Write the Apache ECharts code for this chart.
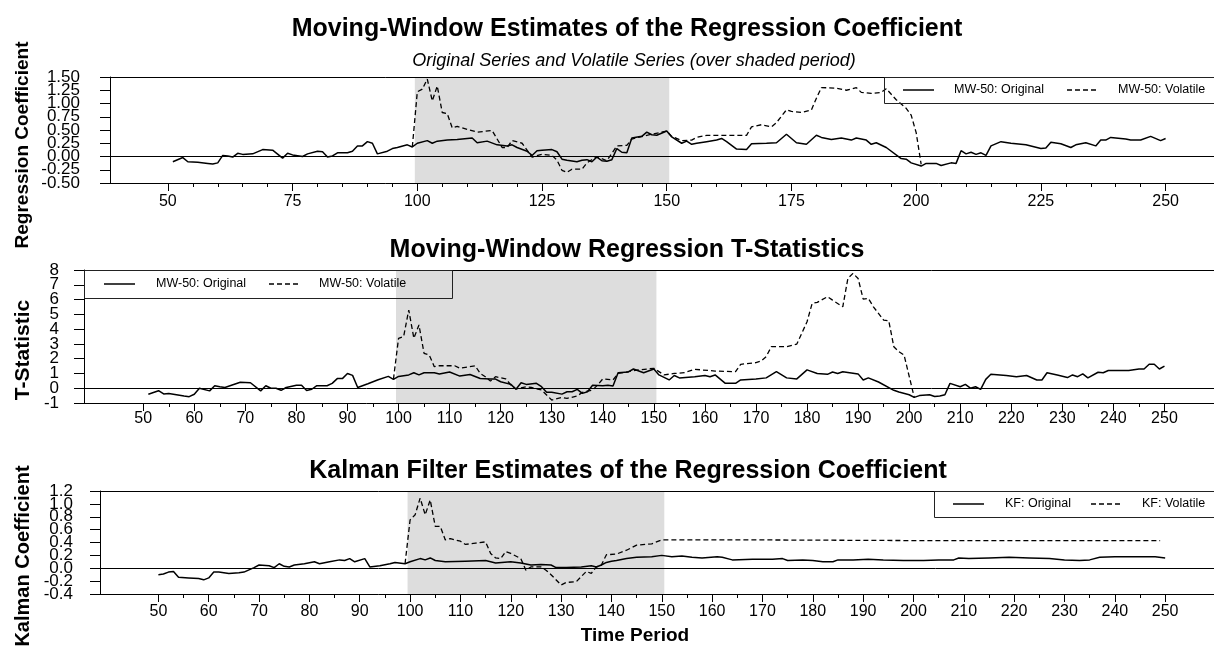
<!DOCTYPE html>
<html>
<head>
<meta charset="utf-8">
<script src="https://cdn.jsdelivr.net/npm/echarts@6/dist/echarts.min.js"></script>
</head>
<body style="margin:0">
<div id="container" style="width:1214px;height:647px"></div>
<script>
// values (time period, value)
var coefOrigT = [51,53,54,56,58,59,60,61,62,63,64,65,67,69,71,73,74,75,77,78,80,81,82,83,84,86,87,88,89,90,91,92,94,95,96,98,99,100,102,103,104,106,108,110,111,112,114,116,118,119,120,122,123,124,125,127,128,129,130,132,133,134,135,136,137,138,139,140,141,142,143,145,146,147,148,150,151,153,154,155,156,158,160,161,162,164,166,167,170,172,174,176,178,180,181,183,185,187,188,190,191,192,194,197,198,199,201,202,204,205,207,208,209,210,211,212,213,214,215,217,219,222,225,226,227,229,231,232,234,236,237,238,239,242,243,245,247,249,250];
var coefOrigV = [-0.10,-0.02,-0.10,-0.11,-0.13,-0.14,-0.12,0.02,0.01,-0.01,0.06,0.04,0.05,0.13,0.12,-0.03,0.06,0.03,0.00,0.05,0.10,0.09,-0.01,0.01,0.07,0.07,0.10,0.20,0.20,0.28,0.25,0.05,0.10,0.15,0.17,0.22,0.18,0.25,0.30,0.25,0.29,0.31,0.32,0.34,0.35,0.26,0.29,0.22,0.20,0.22,0.17,0.10,0.02,0.11,0.12,0.13,0.09,-0.05,-0.07,-0.10,-0.07,-0.06,-0.10,-0.01,-0.08,-0.09,-0.06,0.15,0.08,0.07,0.35,0.38,0.46,0.41,0.40,0.48,0.37,0.25,0.29,0.23,0.25,0.28,0.31,0.34,0.28,0.14,0.13,0.24,0.25,0.26,0.42,0.26,0.23,0.40,0.36,0.32,0.35,0.31,0.35,0.31,0.23,0.26,0.17,-0.04,-0.05,-0.12,-0.18,-0.13,-0.13,-0.17,-0.12,-0.13,0.11,0.05,0.08,0.04,0.07,0.02,0.20,0.28,0.25,0.22,0.15,0.16,0.27,0.24,0.17,0.22,0.26,0.20,0.31,0.31,0.36,0.33,0.31,0.31,0.38,0.30,0.34];
var coefVolT = [99,100,101,102,103,104,105,106,107,108,110,112,115,116,117,118,119,121,122,123,125,127,128,129,130,131,133,134,136,138,140,142,143,146,150,151,153,155,156,158,166,167,169,171,172,174,175,177,179,180,181,184,186,188,189,191,193,194,196,198,199,200,201];
var coefVolV = [0.18,1.22,1.27,1.46,1.05,1.33,0.83,0.81,0.54,0.57,0.51,0.46,0.49,0.33,0.17,0.17,0.30,0.25,0.12,-0.01,0.04,0.02,-0.07,-0.26,-0.30,-0.24,-0.24,-0.12,0.00,-0.08,0.20,0.21,0.33,0.40,0.48,0.38,0.30,0.31,0.36,0.40,0.40,0.56,0.60,0.56,0.64,0.88,0.85,0.83,0.88,1.10,1.30,1.29,1.25,1.30,1.21,1.19,1.21,1.28,1.07,0.91,0.78,0.45,-0.15];

var tstatOrigT = [51,53,54,55,58,59,60,61,63,64,65,66,69,71,73,74,75,76,77,78,80,81,82,83,84,86,87,88,89,90,91,92,94,96,98,99,100,102,103,104,105,107,108,110,112,114,116,118,119,120,122,123,124,125,127,128,129,130,132,133,134,135,136,137,138,140,141,142,143,145,146,148,150,151,153,154,155,158,160,161,162,164,166,167,170,172,174,176,178,180,182,184,185,186,187,190,191,192,194,197,198,200,201,202,204,205,206,207,208,210,211,212,213,214,215,216,219,221,223,225,226,227,229,231,232,233,234,235,237,238,239,243,245,246,247,248,249,250];
var tstatOrigV = [-0.41,-0.17,-0.39,-0.35,-0.53,-0.57,-0.41,0.00,-0.18,0.17,0.10,0.05,0.40,0.37,-0.18,0.17,0.00,0.00,-0.14,0.05,0.20,0.20,-0.16,-0.07,0.17,0.17,0.33,0.65,0.65,1.00,0.87,0.05,0.30,0.57,0.80,0.60,0.80,0.90,1.05,0.90,1.05,1.05,0.96,1.10,0.82,0.93,0.66,0.62,0.62,0.44,0.26,-0.07,0.37,0.26,0.33,0.10,-0.28,-0.28,-0.40,-0.24,-0.24,-0.08,-0.35,-0.24,0.20,0.17,0.20,0.15,1.05,1.10,1.30,1.05,1.30,0.90,0.56,0.86,0.70,0.78,0.86,0.78,0.90,0.33,0.33,0.56,0.63,0.70,1.12,0.70,0.63,1.24,1.00,0.94,1.10,1.00,1.12,0.97,0.56,0.70,0.42,-0.14,-0.26,-0.44,-0.62,-0.50,-0.44,-0.56,-0.52,-0.44,0.33,0.10,0.26,0.00,0.10,-0.08,0.60,0.94,0.86,0.78,0.86,0.56,0.56,1.05,0.90,0.72,0.90,0.78,0.97,0.70,1.08,1.05,1.20,1.20,1.30,1.30,1.62,1.62,1.30,1.50];
var tstatVolT = [99,100,101,102,103,104,105,106,107,108,111,112,115,116,117,118,119,121,122,123,125,126,128,130,132,133,135,136,138,139,140,142,143,147,150,152,154,156,158,162,166,167,170,171,172,173,176,178,180,181,182,184,185,187,188,189,190,191,192,193,195,196,197,198,199,201];
var tstatVolV = [0.60,3.38,3.50,5.29,3.38,4.28,2.36,2.25,1.46,1.52,1.52,1.35,1.52,1.00,0.78,0.48,0.78,0.63,0.22,-0.05,0.10,0.05,-0.12,-0.80,-0.62,-0.69,-0.52,-0.28,-0.12,0.22,0.63,0.56,1.00,1.24,1.35,0.90,1.00,1.05,1.28,1.16,1.12,1.62,1.73,1.84,2.14,2.81,2.81,2.99,4.50,5.74,5.81,6.19,5.96,5.51,7.43,7.77,7.43,6.03,6.08,5.51,4.61,4.57,2.81,2.47,2.25,-0.62];

var kalmanOrigT = [50,51,52,53,54,56,58,59,60,61,62,64,66,67,69,70,72,73,74,75,76,77,79,81,82,84,86,87,88,89,91,92,94,96,97,99,100,102,103,104,105,107,111,115,117,120,122,124,126,128,129,131,134,136,137,138,139,140,141,143,145,148,150,152,154,156,158,161,162,164,168,172,174,175,178,180,182,184,185,188,191,194,198,202,205,208,209,211,215,219,223,227,230,233,235,237,240,244,248,250];
var kalmanOrigV = [-0.10,-0.09,-0.06,-0.05,-0.14,-0.15,-0.16,-0.18,-0.15,-0.06,-0.06,-0.08,-0.07,-0.06,0.01,0.05,0.04,0.01,0.07,0.03,0.02,0.05,0.07,0.10,0.07,0.10,0.13,0.12,0.15,0.10,0.15,0.02,0.04,0.07,0.09,0.07,0.10,0.15,0.13,0.16,0.12,0.10,0.11,0.12,0.08,0.10,0.08,0.05,0.06,0.05,0.01,0.01,0.02,0.04,0.02,0.05,0.09,0.11,0.12,0.15,0.17,0.18,0.20,0.18,0.19,0.17,0.16,0.18,0.17,0.13,0.14,0.14,0.15,0.12,0.13,0.12,0.10,0.10,0.13,0.13,0.14,0.13,0.12,0.12,0.13,0.13,0.16,0.15,0.16,0.17,0.16,0.15,0.13,0.12,0.13,0.17,0.18,0.18,0.18,0.16];
var kalmanVolT = [99,100,101,102,103,104,105,106,107,108,110,111,113,115,116,117,118,119,120,122,123,124,126,127,128,130,131,133,135,136,137,138,139,141,143,145,148,150,152,170,200,230,249];
var kalmanVolV = [0.07,0.75,0.83,1.09,0.83,1.06,0.65,0.65,0.44,0.46,0.42,0.37,0.39,0.41,0.23,0.16,0.15,0.26,0.23,0.15,-0.03,0.02,0.02,-0.03,-0.10,-0.26,-0.22,-0.21,-0.05,-0.08,0.02,0.05,0.21,0.22,0.28,0.36,0.38,0.44,0.44,0.44,0.43,0.43,0.43];

// x tick positions
var ticksBy25 = [50,75,100,125,150,175,200,225,250];
var ticksBy10 = [50,60,70,80,90,100,110,120,130,140,150,160,170,180,190,200,210,220,230,240,250];
var ticksBy5 = [];
for (var k = 50; k <= 250; k += 5) ticksBy5.push(k);

// y tick labels, split in two alternating sets so none are dropped
var coefLabelsA = [-0.5, 0, 0.5, 1, 1.5];
var coefLabelsB = [-0.25, 0.25, 0.75, 1.25];
var tstatLabelsA = [-1, 1, 3, 5, 7];
var tstatLabelsB = [0, 2, 4, 6, 8];
var kalmanLabelsA = [-0.4, 0, 0.4, 0.8, 1.2];
var kalmanLabelsB = [-0.2, 0.2, 0.6, 1.0];

var shadeFrom = 99.5, shadeTo = 150.5;
var X_MIN = 38.4, X_MAX = 259.7;
var FONT = 'Liberation Sans, Arial, sans-serif';

function pairs(ts, vs) {
    return ts.map(function (t, i) { return [t, vs[i]]; });
}

var grids = [
    { left: 110, right: -2, top: 77, height: 106 },
    { left: 84, right: -2, top: 270, height: 133 },
    { left: 100, right: -2, top: 491, height: 103 }
];

function xAxesFor(g, labels, labelMargin) {
    var base = { gridIndex: g, type: 'value', min: X_MIN, max: X_MAX, splitLine: { show: false } };
    return [
        Object.assign({}, base, {
            position: 'bottom', z: 10,
            axisLine: { show: true, onZero: false, lineStyle: { color: '#000', width: 1 } },
            axisTick: { show: true, length: 8, customValues: labels, lineStyle: { color: '#000' } },
            axisLabel: { customValues: labels, fontSize: 16, fontFamily: FONT, color: '#000', margin: labelMargin }
        }),
        Object.assign({}, base, {
            position: 'bottom',
            axisLine: { show: false, onZero: false },
            axisTick: { show: true, length: 4, customValues: ticksBy5, lineStyle: { color: '#000' } },
            axisLabel: { show: false }
        }),
        Object.assign({}, base, {
            position: 'top', z: 10,
            axisLine: { show: true, onZero: false, lineStyle: { color: '#000', width: 1 } },
            axisTick: { show: false },
            axisLabel: { show: false }
        })
    ];
}

function yAxesFor(g, min, max, interval, digits, margin, labelsA, labelsB) {
    var fmt = function (v) { return v.toFixed(digits); };
    var lbl = { fontSize: 17, fontFamily: FONT, color: '#000', margin: margin, formatter: fmt };
    var base = { gridIndex: g, type: 'value', position: 'left', min: min, max: max, interval: interval, splitLine: { show: false } };
    return [
        Object.assign({}, base, {
            axisLine: { show: true, onZero: false, lineStyle: { color: '#000' } },
            axisTick: { show: true, length: 10, lineStyle: { color: '#000' } },
            axisLabel: Object.assign({ customValues: labelsA }, lbl)
        }),
        Object.assign({}, base, {
            axisLine: { show: false, onZero: false },
            axisTick: { show: false },
            axisLabel: Object.assign({ customValues: labelsB }, lbl)
        })
    ];
}

function panelSeries(g, names, orig, vol) {
    return [{
        name: names[0], type: 'line', xAxisIndex: g * 3, yAxisIndex: g * 2,
        data: orig, showSymbol: false, symbol: 'none',
        lineStyle: { color: '#000', width: 1.5 },
        itemStyle: { color: '#000' },
        markArea: {
            silent: true,
            itemStyle: { color: '#dddddd' },
            data: [[{ xAxis: shadeFrom }, { xAxis: shadeTo }]]
        },
        markLine: {
            silent: true, symbol: ['none', 'none'], label: { show: false },
            lineStyle: { color: '#000', width: 1, type: 'solid' },
            data: [{ yAxis: 0 }]
        }
    }, {
        name: names[1], type: 'line', xAxisIndex: g * 3, yAxisIndex: g * 2,
        data: vol, showSymbol: false, symbol: 'none',
        lineStyle: { color: '#000', width: 1.3, type: [5, 3] },
        itemStyle: { color: '#000' }
    }];
}

// legend boxes: frame, solid key, dashed key, two labels
function legendBox(box, keys, names) {
    var cy = box.y + box.h / 2;
    var txt = { fontSize: 12.5, fontFamily: FONT, fill: '#000', verticalAlign: 'middle', align: 'left' };
    return [
        { type: 'rect', z: 20, shape: { x: box.x + 0.5, y: box.y + 0.5, width: box.w, height: box.h },
          style: { fill: 'none', stroke: '#222', lineWidth: 1 } },
        { type: 'line', z: 20, shape: { x1: keys[0], y1: cy, x2: keys[0] + 31, y2: cy },
          style: { stroke: '#000', lineWidth: 1.5 } },
        { type: 'text', z: 20, x: keys[1], y: cy, style: Object.assign({ text: names[0] }, txt) },
        { type: 'line', z: 20, shape: { x1: keys[2], y1: cy, x2: keys[2] + 31, y2: cy },
          style: { stroke: '#000', lineWidth: 1.3, lineDash: [5, 3] } },
        { type: 'text', z: 20, x: keys[3], y: cy, style: Object.assign({ text: names[1] }, txt) }
    ];
}

var mwNames = ['MW-50: Original', 'MW-50: Volatile'];
var kfNames = ['KF: Original', 'KF: Volatile'];

var titleStyle = { fontSize: 25, fontWeight: 'bold', fontFamily: FONT, color: '#000' };
var nameStyle = { fontWeight: 'bold', fontFamily: FONT, fill: '#000', align: 'center', verticalAlign: 'middle' };

var option = {
    animation: false,
    backgroundColor: '#fff',
    title: [
        { text: 'Moving-Window Estimates of the Regression Coefficient', left: 627, top: 17, textAlign: 'center', padding: 0, textStyle: titleStyle },
        { text: 'Original Series and Volatile Series (over shaded period)', left: 634, top: 52, textAlign: 'center', padding: 0,
          textStyle: { fontSize: 18, fontStyle: 'italic', fontWeight: 'normal', fontFamily: FONT, color: '#000' } },
        { text: 'Moving-Window Regression T-Statistics', left: 627, top: 238, textAlign: 'center', padding: 0, textStyle: titleStyle },
        { text: 'Kalman Filter Estimates of the Regression Coefficient', left: 628, top: 459, textAlign: 'center', padding: 0, textStyle: titleStyle },
        { text: 'Time Period', left: 635, top: 626, textAlign: 'center', padding: 0,
          textStyle: { fontSize: 19, fontWeight: 'bold', fontFamily: FONT, color: '#000' } }
    ],
    graphic: [].concat(
        [
            { type: 'text', x: 23, y: 145, rotation: Math.PI / 2, style: Object.assign({ text: 'Regression Coefficient', fontSize: 19 }, nameStyle) },
            { type: 'text', x: 23, y: 350, rotation: Math.PI / 2, style: Object.assign({ text: 'T-Statistic', fontSize: 21 }, nameStyle) },
            { type: 'text', x: 23, y: 556, rotation: Math.PI / 2, style: Object.assign({ text: 'Kalman Coefficient', fontSize: 20 }, nameStyle) }
        ],
        legendBox({ x: 884, y: 77, w: 340, h: 26 }, [903, 954, 1067, 1118], mwNames),
        legendBox({ x: 84, y: 270, w: 368, h: 28 }, [104, 156, 269, 319], mwNames),
        legendBox({ x: 934, y: 491, w: 300, h: 26 }, [953, 1005, 1091, 1142], kfNames)
    ),
    grid: grids,
    xAxis: [].concat(xAxesFor(0, ticksBy25, 11), xAxesFor(1, ticksBy10, 8), xAxesFor(2, ticksBy10, 10)),
    yAxis: [].concat(
        yAxesFor(0, -0.5, 1.5, 0.25, 2, 30, coefLabelsA, coefLabelsB),
        yAxesFor(1, -1, 8, 1, 0, 25, tstatLabelsA, tstatLabelsB),
        yAxesFor(2, -0.4, 1.2, 0.2, 1, 27, kalmanLabelsA, kalmanLabelsB)
    ),
    series: [].concat(
        panelSeries(0, mwNames, pairs(coefOrigT, coefOrigV), pairs(coefVolT, coefVolV)),
        panelSeries(1, mwNames, pairs(tstatOrigT, tstatOrigV), pairs(tstatVolT, tstatVolV)),
        panelSeries(2, kfNames, pairs(kalmanOrigT, kalmanOrigV), pairs(kalmanVolT, kalmanVolV))
    )
};

var chart = echarts.init(document.getElementById('container'));
chart.setOption(option);
</script>
</body>
</html>
